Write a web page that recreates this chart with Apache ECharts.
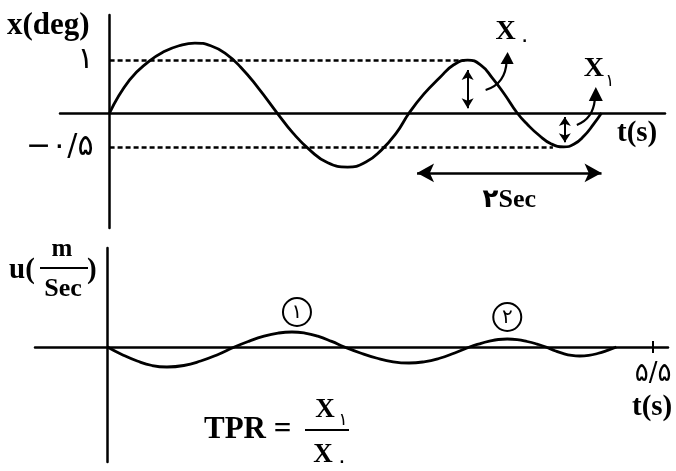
<!DOCTYPE html>
<html><head><meta charset="utf-8">
<script src="https://cdn.jsdelivr.net/npm/echarts@6/dist/echarts.min.js"></script>
<style>html,body{margin:0;background:#fff}#c{width:676px;height:471px}</style>
</head><body><div id="c"></div><script>
// top plot: x(deg) vs t(s)
const topTime = [0,0.20,0.40,0.55,0.70,0.86,1.02,1.17,1.32,1.50,1.69,1.85,2.02,2.20,2.40,2.58,2.74,2.89,3.02,3.17,3.33,3.47,3.61,3.74,3.86,3.98,4.11,4.22,4.33,4.45,4.58,4.68,4.78,4.88,4.96];
const topDeg  = [0,0.62,0.98,1.16,1.27,1.32,1.27,1.12,0.87,0.47,0,-0.38,-0.70,-0.94,-1.02,-0.93,-0.70,-0.38,0,0.36,0.67,0.91,1.00,0.91,0.66,0.36,0,-0.23,-0.42,-0.58,-0.64,-0.59,-0.44,-0.21,0];
// bottom plot: u(m/Sec) vs t(s)
const botTime = [0,0.15,0.30,0.45,0.60,0.77,0.94,1.11,1.28,1.43,1.57,1.72,1.86,1.99,2.12,2.26,2.39,2.55,2.71,2.88,3.04,3.19,3.34,3.50,3.65,3.75,3.85,3.94,4.03,4.13,4.23,4.33,4.42,4.51,4.59,4.68,4.76,4.85,4.94,5.04,5.13];
const botU    = [0,-0.077,-0.14,-0.185,-0.20,-0.185,-0.14,-0.077,0,0.059,0.106,0.139,0.15,0.139,0.108,0.056,0,-0.06,-0.11,-0.148,-0.16,-0.148,-0.115,-0.06,0,0.032,0.058,0.075,0.08,0.074,0.055,0.029,0,-0.037,-0.064,-0.084,-0.09,-0.084,-0.065,-0.034,0];
// tick labels
const degTickValues = [1, -0.64];
const degTickLabels = ['۱', '−۰/۵'];
const timeTickValues = [5.5];
const timeTickLabels = ['۵/۵'];
// reference levels and annotation values
const levelEnds = [3.58, 4.47];
const periodStart = 3.10, periodEnd = 4.96, periodLevel = -1.13;
const peak1 = [3.61, 1.00], trough1 = [4.59, -0.64];
const uPeak1 = [1.86, 0.15], uPeak2 = [4.03, 0.08];

const FONT = "'Liberation Serif','DejaVu Sans',serif";
const DIGIT_FONT = "'DejaVu Sans',sans-serif";
const BLACK = '#000';
const chart = echarts.init(document.getElementById('c'));
const axLine = {show:true, onZero:true, lineStyle:{color:BLACK, width:2.5}};
const noAx = {axisTick:{show:false}, axisLabel:{show:false}, splitLine:{show:false}};

chart.setOption({
  animation:false,
  backgroundColor:'#fff',
  grid:[{left:60, top:15, width:605, height:213, outerBoundsMode:'none', containLabel:false},
        {left:35, top:248, width:633, height:214, outerBoundsMode:'none', containLabel:false}],
  xAxis:[
    Object.assign({gridIndex:0, type:'value', min:-0.5, max:5.6, axisLine:axLine}, noAx),
    Object.assign({gridIndex:1, type:'value', min:-0.73, max:5.65, axisLine:axLine}, noAx)
  ],
  yAxis:[
    Object.assign({gridIndex:0, type:'value', min:-2.17, max:1.85, axisLine:axLine}, noAx),
    Object.assign({gridIndex:1, type:'value', min:-1.15, max:0.99, axisLine:axLine}, noAx)
  ],
  series:[
    {type:'line', xAxisIndex:0, yAxisIndex:0, smooth:true, symbol:'none', data:topTime.map((t,i)=>[t,topDeg[i]]),
     lineStyle:{color:BLACK, width:2.8},
     markLine:{silent:true, symbol:['none','none'],
       label:{show:false},
       lineStyle:{color:BLACK, width:2.5, type:[5,3]},
       data: degTickValues.map((v,i)=>[
           {coord:[0,v], label:{show:true, position:'start', formatter:degTickLabels[i], distance:16, color:BLACK, fontSize:30, fontFamily:DIGIT_FONT}},
           {coord:[levelEnds[i],v]}]).concat([
         [{coord:[periodStart,periodLevel], symbol:'arrow', symbolSize:[14,17], lineStyle:{type:'solid', width:2.5}},
          {coord:[periodEnd,periodLevel], symbol:'arrow', symbolSize:[14,17]}],
         [{coord:[peak1[0],peak1[1]-0.19], symbol:'arrow', symbolSize:[9,10], lineStyle:{type:'solid', width:2}},
          {coord:[peak1[0],0.09], symbol:'arrow', symbolSize:[9,10]}],
         [{coord:[trough1[0],-0.075], symbol:'arrow', symbolSize:[9,9], lineStyle:{type:'solid', width:2}},
          {coord:[trough1[0],trough1[1]+0.09], symbol:'arrow', symbolSize:[9,9]}]
       ])}
    },
    {type:'line', xAxisIndex:1, yAxisIndex:1, smooth:true, symbol:'none', data:botTime.map((t,i)=>[t,botU[i]]),
     lineStyle:{color:BLACK, width:2.8},
     markLine:{silent:true, symbol:['none','none'], lineStyle:{color:BLACK, width:2, type:'solid'},
       data: timeTickValues.map((v,i)=>[
         {coord:[v,0.06], label:{show:true, position:'end', formatter:timeTickLabels[i], distance:8, color:BLACK, fontSize:26, fontFamily:DIGIT_FONT}},
         {coord:[v,-0.06]}])}
    }
  ]
});

const P0 = p => chart.convertToPixel({gridIndex:0}, p);
const P1 = p => chart.convertToPixel({gridIndex:1}, p);
const pk = P0(peak1), tr = P0(trough1);
const periodMid = P0([(periodStart+periodEnd)/2, periodLevel]);
const up1 = P1(uPeak1), up2 = P1(uPeak2);
function txt(s, x, y, size, align, font) {
  return {type:'text', style:{text:s, x:x, y:y, font:font ? size+'px '+font : 'bold '+size+'px '+FONT, fill:BLACK, align:align||'left', verticalAlign:'middle'}};
}
const g = [];
// axis titles
g.push(txt('x(deg)', 7, 26, 31, 'left'));
g.push(txt('t(s)', 617, 134, 29, 'left'));
g.push(txt('۲Sec', periodMid[0], periodMid[1]+27, 26, 'center'));
// X0 and X1 labels
g.push(txt('X', pk[0]+38, 32, 28, 'center'));
g.push(txt('۰', pk[0]+57, 41, 22, 'center', DIGIT_FONT));
g.push(txt('X', tr[0]+29, 69, 28, 'center'));
g.push(txt('۱', tr[0]+45, 82, 17, 'center', DIGIT_FONT));
// curved arrows
g.push({type:'bezierCurve', shape:{x1:pk[0]+18, y1:pk[1]+30, cpx1:pk[0]+38, cpy1:pk[1]+24, x2:pk[0]+39, y2:pk[1]+1}, style:{stroke:BLACK, lineWidth:2.2, fill:null}});
g.push({type:'polygon', shape:{points:[[pk[0]+40,pk[1]-8],[pk[0]+33,pk[1]+4],[pk[0]+46,pk[1]+4]]}, style:{fill:BLACK}});
g.push({type:'bezierCurve', shape:{x1:tr[0]+12, y1:tr[1]-22, cpx1:tr[0]+28, cpy1:tr[1]-28, x2:tr[0]+30, y2:tr[1]-47}, style:{stroke:BLACK, lineWidth:2.2, fill:null}});
g.push({type:'polygon', shape:{points:[[tr[0]+31,tr[1]-60],[tr[0]+24,tr[1]-46],[tr[0]+38,tr[1]-46]]}, style:{fill:BLACK}});
// bottom axis title u(m/Sec)
g.push(txt('u(', 9, 271, 29, 'left'));
g.push(txt('m', 62, 250, 25, 'center'));
g.push({type:'line', shape:{x1:40, y1:268, x2:88, y2:268}, style:{stroke:BLACK, lineWidth:2}});
g.push(txt('Sec', 63, 289, 26, 'center'));
g.push(txt(')', 87, 271, 29, 'left'));
g.push(txt('t(s)', 632, 408, 29, 'left'));
// circled numbers
[[up1,'۱',5,-20],[up2,'۲',0,-22]].forEach(([p,s,dx,dy])=>{
  g.push({type:'circle', shape:{cx:p[0]+dx, cy:p[1]+dy, r:14}, style:{stroke:BLACK, lineWidth:2, fill:'#fff'}});
  g.push(txt(s, p[0]+dx, p[1]+dy+1, 20, 'center', DIGIT_FONT));
});
// TPR formula
g.push(txt('TPR =', 204, 430, 31, 'left'));
g.push({type:'line', shape:{x1:305, y1:430, x2:349, y2:430}, style:{stroke:BLACK, lineWidth:2}});
g.push(txt('X', 325, 410, 27, 'center'));
g.push(txt('۱', 343, 421, 17, 'center', DIGIT_FONT));
g.push(txt('X', 323, 455, 27, 'center'));
g.push(txt('۰', 342, 462, 22, 'center', DIGIT_FONT));
chart.setOption({graphic:g});
</script></body></html>
